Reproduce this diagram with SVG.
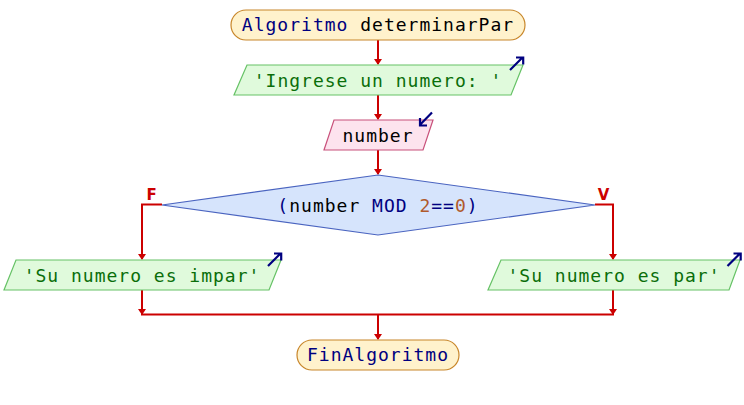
<svg xmlns="http://www.w3.org/2000/svg" width="744" height="405" viewBox="0 0 744 405">
<defs>
<style>
text{font-family:"DejaVu Sans Mono","Liberation Mono",monospace;font-size:18px;letter-spacing:1px;text-anchor:middle}
.term{fill:#fff2cc;stroke:#c8862a;stroke-width:1.2}
.out{fill:#e0fadc;stroke:#66c266;stroke-width:1.2}
.inp{fill:#fde3ee;stroke:#c8507a;stroke-width:1.2}
.dec{fill:#d6e4fc;stroke:#4a64c0;stroke-width:1.2}
.kw{fill:#000080}
.txt{fill:#000000}
.str{fill:#0a6e0a}
.num{fill:#b05a2c}
.edge{fill:none;stroke:#cc0000;stroke-width:2}
.head{fill:#cc0000}
.io{fill:none;stroke:#000080;stroke-width:2.2;stroke-linecap:butt}
.lbl{font-family:"DejaVu Sans","Liberation Sans",sans-serif;font-size:15px;font-weight:bold;fill:#cc0000;letter-spacing:0}
</style>
</defs>
<g id="connectors">
<path class="edge" d="M378,40 V64"/>
<path class="edge" d="M378,95 V119"/>
<path class="edge" d="M378,150 V174"/>
<path class="edge" d="M162,204.5 H142 V259"/>
<path class="edge" d="M595,204.5 H613 V259"/>
<path class="edge" d="M142,290 V314.5 H613 V290"/>
<path class="edge" d="M378,314.5 V339"/>
<polygon class="head" points="374,59 382,59 378,65"/>
<polygon class="head" points="374,114 382,114 378,120"/>
<polygon class="head" points="374,169 382,169 378,175"/>
<polygon class="head" points="138,254 146,254 142,260"/>
<polygon class="head" points="609,254 617,254 613,260"/>
<polygon class="head" points="138,309 146,309 142,315"/>
<polygon class="head" points="609,309 617,309 613,315"/>
<polygon class="head" points="374,334 382,334 378,340"/>
<text class="lbl" x="151.5" y="200">F</text>
<text class="lbl" x="603.5" y="200">V</text>
</g>
<g id="start">
<rect class="term" x="231" y="10" width="294" height="30" rx="15"/>
<text x="378" y="31"><tspan class="kw">Algoritmo</tspan><tspan class="txt"> determinarPar</tspan></text>
</g>
<g id="out1">
<polygon class="out" points="247,65 523,65 511,95 234,95"/>
<text class="str" x="378" y="87">'Ingrese un numero: '</text>
<path class="io" d="M510,70 L522.5,57.5 M516,57.5 H523.2 V64.5"/>
</g>
<g id="in1">
<polygon class="inp" points="334,120 433,120 423,150 324,150"/>
<text class="txt" x="378" y="142">number</text>
<path class="io" d="M432,112.5 L420,124.8 M420,118 V125.5 H427"/>
</g>
<g id="dec">
<polygon class="dec" points="378,175 595,205 378,235 162,205"/>
<text x="378" y="212"><tspan class="kw">(</tspan><tspan class="txt">number </tspan><tspan class="kw">MOD </tspan><tspan class="num">2</tspan><tspan class="kw">==</tspan><tspan class="num">0</tspan><tspan class="kw">)</tspan></text>
</g>
<g id="outF">
<polygon class="out" points="16,260 281,260 269,290 4,290"/>
<text class="str" x="142" y="282">'Su numero es impar'</text>
<path class="io" d="M268,266 L280.5,253.5 M274,253.5 H281.2 V260.5"/>
</g>
<g id="outV">
<polygon class="out" points="501,260 740,260 729,290 488,290"/>
<text class="str" x="614" y="282">'Su numero es par'</text>
<path class="io" d="M727.5,266 L740,253.5 M733.5,253.5 H740.7 V260.5"/>
</g>
<g id="end">
<rect class="term" x="297" y="340" width="162" height="30" rx="15"/>
<text class="kw" x="378" y="361">FinAlgoritmo</text>
</g>
</svg>
